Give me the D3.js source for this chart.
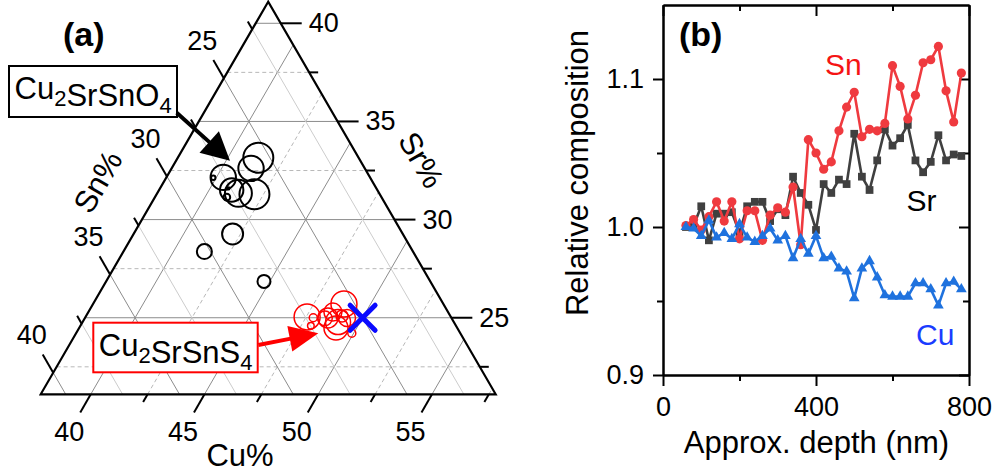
<!DOCTYPE html>
<html>
<head>
<meta charset="utf-8">
<title>Ternary composition and depth profile</title>
<script src="https://cdn.jsdelivr.net/npm/d3@7"></script>
<style>
  body { margin: 0; background: #fff; }
  svg text { font-family: "Liberation Sans", Arial, Helvetica, sans-serif; fill: #000; }
</style>
</head>
<body>
<svg id="chart" width="995" height="473"></svg>
<script>
"use strict";

// ---------- panel (a) data : compositions in at.% ----------
var oxideCu = [41.34, 41.29, 40.30, 40.99, 41.37, 42.10, 39.87, 40.96, 40.80, 42.15, 41.36, 44.74];
var oxideSr = [33.15, 32.61, 32.15, 31.51, 31.34, 31.29, 32.13, 31.14, 31.59, 29.27, 28.37, 26.85];
var oxideSn = [25.51, 26.10, 27.55, 27.50, 27.29, 26.61, 28.00, 27.90, 27.61, 28.58, 30.27, 28.41];
var oxideWeight = [15, 12.7, 12.7, 11.7, 13.5, 15, 2.2, 3.4, 1.2, 10.5, 7.5, 6.5];

var sulfideCu = [48.83, 47.54, 49.03, 49.32, 48.48, 48.36, 47.83, 47.93, 49.92, 49.09, 48.55, 49.05];
var sulfideSr = [25.70, 25.04, 24.78, 24.99, 24.99, 24.97, 25.00, 24.59, 24.21, 24.48, 25.29, 25.09];
var sulfideSn = [25.47, 27.42, 26.19, 25.69, 26.53, 26.67, 27.17, 27.48, 25.87, 26.43, 26.16, 25.86];
var sulfideWeight = [13, 13, 12.5, 8.5, 10, 7.3, 4, 3.3, 4, 12, 9, 6];

var targetCu = [50], targetSr = [25], targetSn = [25];

// visible corner of the ternary (lower bound of each element, span 20 %)
var cuMin = 37.8, snMin = 21.1, srMin = 21.1, ternSpan = 20;
var cuGrid = [40, 42.5, 45, 47.5, 50, 52.5, 55, 57.5];
var snGrid = [22.5, 25, 27.5, 30, 32.5, 35, 37.5, 40];
var srGrid = [22.5, 25, 27.5, 30, 32.5, 35, 37.5, 40];

// ---------- panel (b) data ----------
var depth = [60, 80, 100, 120, 140, 160, 180, 200, 220, 240, 260, 280, 300, 320, 340, 360, 380, 400, 420,
             440, 460, 480, 500, 520, 540, 560, 580, 600, 620, 640, 660, 680, 700, 720, 740, 760, 780];
var snRel = [1.001, 1.005, 0.998, 1.007, 1.017, 1.004, 1.017, 0.992, 1.011, 1.011, 0.991, 1.008, 1.013,
             1.010, 1.027, 0.988, 1.059, 1.050, 1.039, 1.044, 1.065, 1.081, 1.091, 1.061, 1.066, 1.065,
             1.070, 1.109, 1.095, 1.073, 1.089, 1.111, 1.113, 1.122, 1.092, 1.071, 1.104];
var srRel = [1.000, 1.001, 1.014, 0.991, 1.009, 1.009, 1.010, 0.996, 1.014, 1.017, 1.017, 1.004, 1.012,
             1.008, 1.034, 1.023, 1.015, 0.998, 1.029, 1.023, 1.032, 1.029, 1.063, 1.034, 1.025, 1.045,
             1.066, 1.055, 1.060, 1.069, 1.045, 1.037, 1.044, 1.062, 1.045, 1.049, 1.048];
var cuRel = [1.000, 0.999, 0.994, 1.0045, 0.993, 0.996, 0.992, 1.002, 0.993, 0.990, 0.994, 0.999, 0.991,
             0.994, 0.979, 0.992, 0.982, 0.994, 0.979, 0.980, 0.972, 0.970, 0.952, 0.972, 0.977, 0.966,
             0.954, 0.953, 0.953, 0.953, 0.962, 0.962, 0.958, 0.947, 0.962, 0.963, 0.958];
var depthTicks = [0, 400, 800], depthMinor = [200, 600];
var relTicks = [0.9, 1.0, 1.1], relMinor = [0.95, 1.05];

var svg = d3.select("#chart");

// =============== (a) ternary ===============
var ga = svg.append("g");

var cuFrac = d3.scaleLinear().domain([cuMin, cuMin + ternSpan]).range([0, 1]);
var snFrac = d3.scaleLinear().domain([snMin, snMin + ternSpan]).range([0, 1]);
var srFrac = d3.scaleLinear().domain([srMin, srMin + ternSpan]).range([0, 1]);
var fx = d3.scaleLinear().domain([0, 1]).range([40.7, 495.7]);
var fy = d3.scaleLinear().domain([0, 1]).range([394.3, 1.7]);
var rScale = d3.scaleLinear().domain([0, 15]).range([0, 15]);

// a = Sr fraction, c = Cu fraction (Sn is the rest)
function pt(a, c) { return [fx(c + a / 2), fy(a)]; }
function project(cu, sr) { return pt(srFrac(sr), cuFrac(cu)); }

function seg(g, p, q) {
  return g.append("line").attr("x1", p[0]).attr("y1", p[1]).attr("x2", q[0]).attr("y2", q[1]);
}

var grid = ga.append("g").attr("fill", "none");
srGrid.forEach(function (v) {
  var a = srFrac(v), major = v % 5 === 0;
  seg(grid, pt(a, 0), pt(a, 1 - a))
    .attr("stroke", major ? "#8c8c8c" : "#b8b8b8")
    .attr("stroke-dasharray", major ? null : "4,3");
});
cuGrid.forEach(function (v) {
  var c = cuFrac(v), major = v % 5 === 0;
  seg(grid, pt(0, c), pt(1 - c, c))
    .attr("stroke", major ? "#8c8c8c" : "#b8b8b8")
    .attr("stroke-dasharray", major ? null : "4,3");
});
snGrid.forEach(function (v) {
  var b = snFrac(v), major = v % 5 === 0;
  seg(grid, pt(0, 1 - b), pt(1 - b, 0))
    .attr("stroke", major ? "#8c8c8c" : "#cccccc");
});

// outline
var corners = [pt(1, 0), pt(0, 0), pt(0, 1)];
ga.append("path")
  .attr("d", d3.line()(corners) + "Z")
  .attr("fill", "none").attr("stroke", "#000").attr("stroke-width", 2.2)
  .attr("stroke-linejoin", "miter");

// ticks and labels along the three edges
var s3 = Math.sqrt(3) / 2;
function edgeTicks(values, edgePoint, dir) {
  values.forEach(function (v) {
    var p = edgePoint(v), major = v % 5 === 0, len = major ? 21 : 9;
    seg(ga, p, [p[0] + dir[0] * len, p[1] + dir[1] * len])
      .attr("stroke", "#000").attr("stroke-width", 2);
    if (major) {
      ga.append("text")
        .attr("x", p[0] + dir[0] * 43).attr("y", p[1] + dir[1] * 43)
        .attr("text-anchor", "middle").attr("dominant-baseline", "central")
        .attr("font-size", 27).text(v);
    }
  });
}
edgeTicks(srGrid, function (v) { var a = srFrac(v); return pt(a, 1 - a); }, [1, 0]);
edgeTicks(cuGrid, function (v) { return pt(0, cuFrac(v)); }, [-0.5, s3]);
edgeTicks(snGrid, function (v) { var b = snFrac(v); return pt(1 - b, 0); }, [-0.5, -s3]);

ga.append("text").attr("x", 240).attr("y", 466).attr("text-anchor", "middle")
  .attr("font-size", 31).text("Cu%");
ga.append("text").attr("transform", "translate(98,182) rotate(-60)")
  .attr("text-anchor", "middle").attr("dominant-baseline", "central")
  .attr("font-size", 31).text("Sn%");
ga.append("text").attr("transform", "translate(421,160) rotate(60)")
  .attr("text-anchor", "middle").attr("dominant-baseline", "central")
  .attr("font-size", 31).text("Sr%");

// measured compositions
ga.append("g").selectAll("circle")
  .data(oxideCu.map(function (d, i) { return { cu: d, sr: oxideSr[i], sn: oxideSn[i], w: oxideWeight[i] }; }))
  .enter().append("circle")
  .attr("cx", function (d) { return project(d.cu, d.sr)[0]; })
  .attr("cy", function (d) { return project(d.cu, d.sr)[1]; })
  .attr("r", function (d) { return rScale(d.w); })
  .attr("fill", "none").attr("stroke", "#000").attr("stroke-width", 2);

ga.append("g").selectAll("circle")
  .data(sulfideCu.map(function (d, i) { return { cu: d, sr: sulfideSr[i], sn: sulfideSn[i], w: sulfideWeight[i] }; }))
  .enter().append("circle")
  .attr("cx", function (d) { return project(d.cu, d.sr)[0]; })
  .attr("cy", function (d) { return project(d.cu, d.sr)[1]; })
  .attr("r", function (d) { return rScale(d.w); })
  .attr("fill", "none").attr("stroke", "#ff0000").attr("stroke-width", 1.5);

ga.append("g").selectAll("path")
  .data(targetCu.map(function (d, i) { return { cu: d, sr: targetSr[i], sn: targetSn[i] }; }))
  .enter().append("path")
  .attr("transform", function (d) { return "translate(" + project(d.cu, d.sr) + ")"; })
  .attr("d", d3.symbol().type(d3.symbolTimes).size(410))
  .attr("fill", "none").attr("stroke", "#0a0aff").attr("stroke-width", 5)
  .attr("stroke-linecap", "round");

// phase labels with arrows
function arrow(x1, y1, x2, y2, color, headLen, headW) {
  var ang = Math.atan2(y2 - y1, x2 - x1), ca = Math.cos(ang), sa = Math.sin(ang);
  var bx = x2 - headLen * ca, by = y2 - headLen * sa;
  ga.append("line").attr("x1", x1).attr("y1", y1).attr("x2", bx + ca).attr("y2", by + sa)
    .attr("stroke", color).attr("stroke-width", 4);
  ga.append("path")
    .attr("d", "M" + x2 + "," + y2 + "L" + (bx - sa * headW / 2) + "," + (by + ca * headW / 2) +
               "L" + (bx + sa * headW / 2) + "," + (by - ca * headW / 2) + "Z")
    .attr("fill", color);
}

function phaseLabel(x, y, w, h, color, parts) {
  ga.append("rect").attr("x", x).attr("y", y).attr("width", w).attr("height", h)
    .attr("fill", "#fff").attr("stroke", color).attr("stroke-width", 2);
  var t = ga.append("text").attr("x", x + 5.5).attr("y", y + 33).attr("font-size", 31);
  parts.forEach(function (p) {
    if (p.sub) {
      t.append("tspan").attr("font-size", 22).attr("dy", 7).text(p.t);
      t.append("tspan").attr("dy", -7).text("");
    } else {
      t.append("tspan").text(p.t);
    }
  });
}

phaseLabel(9, 66, 168, 51, "#000", [{ t: "Cu" }, { t: "2", sub: 1 }, { t: "SrSnO" }, { t: "4", sub: 1 }]);
arrow(176.7, 112.7, 230, 160.7, "#000", 28, 29);
phaseLabel(93.3, 322.7, 164.4, 49.6, "#ff0000", [{ t: "Cu" }, { t: "2", sub: 1 }, { t: "SrSnS" }, { t: "4", sub: 1 }]);
arrow(258.3, 345, 318.3, 333.3, "#ff0000", 29, 26);

ga.append("text").attr("x", 63).attr("y", 46).attr("font-size", 34)
  .attr("font-weight", "bold").text("(a)");

// =============== (b) depth profile ===============
var gb = svg.append("g");
var x = d3.scaleLinear().domain([0, 800]).range([663, 969]);
var y = d3.scaleLinear().domain([0.9, 1.15]).range([375, 5]);

function styleAxis(g) {
  g.selectAll("path, line").attr("stroke", "#000").attr("stroke-width", 2);
  g.selectAll("text").attr("font-size", 27).attr("fill", "#000")
    .style("font-family", "'Liberation Sans', Arial, sans-serif");
}

// bottom (outward) and top (inward)
gb.append("g").attr("transform", "translate(0,375)")
  .call(d3.axisBottom(x).tickValues(depthMinor).tickSize(6).tickFormat("").tickSizeOuter(0)).call(styleAxis);
gb.append("g").attr("transform", "translate(0,375)")
  .call(d3.axisBottom(x).tickValues(depthTicks).tickSize(11).tickPadding(11).tickSizeOuter(0)).call(styleAxis);
gb.append("g").attr("transform", "translate(0,5)")
  .call(d3.axisBottom(x).tickValues(depthMinor).tickSize(6).tickFormat("").tickSizeOuter(0)).call(styleAxis);
gb.append("g").attr("transform", "translate(0,5)")
  .call(d3.axisBottom(x).tickValues(depthTicks).tickSize(11).tickFormat("").tickSizeOuter(0)).call(styleAxis);

// left (outward) and right (inward)
gb.append("g").attr("transform", "translate(663,0)")
  .call(d3.axisLeft(y).tickValues(relMinor).tickSize(6).tickFormat("").tickSizeOuter(0)).call(styleAxis);
gb.append("g").attr("transform", "translate(663,0)")
  .call(d3.axisLeft(y).tickValues(relTicks).tickSize(10).tickPadding(9).tickFormat(d3.format(".1f")).tickSizeOuter(0)).call(styleAxis);
gb.append("g").attr("transform", "translate(969,0)")
  .call(d3.axisLeft(y).tickValues(relMinor).tickSize(6).tickFormat("").tickSizeOuter(0)).call(styleAxis);
gb.append("g").attr("transform", "translate(969,0)")
  .call(d3.axisLeft(y).tickValues(relTicks).tickSize(10).tickFormat("").tickSizeOuter(0)).call(styleAxis);

gb.append("text").attr("x", 816.5).attr("y", 453).attr("text-anchor", "middle")
  .attr("font-size", 31).text("Approx. depth (nm)");
gb.append("text").attr("transform", "translate(588,173) rotate(-90)")
  .attr("text-anchor", "middle").attr("font-size", 31).text("Relative composition");

var series = [
  { values: srRel, color: "#404040", symbol: d3.symbolSquare, size: 60 },
  { values: snRel, color: "#ef3a3f", symbol: d3.symbolCircle, size: 66 },
  { values: cuRel, color: "#1f72de", symbol: d3.symbolTriangle, size: 50 }
];

var line = d3.line().x(function (d) { return x(d[0]); }).y(function (d) { return y(d[1]); });

series.forEach(function (s) {
  var pts = depth.map(function (d, i) { return [d, s.values[i]]; });
  var g = gb.append("g");
  g.append("path").attr("d", line(pts)).attr("fill", "none")
    .attr("stroke", s.color).attr("stroke-width", 2.6).attr("stroke-linejoin", "round");
  g.selectAll("path.m").data(pts).enter().append("path").attr("class", "m")
    .attr("transform", function (d) { return "translate(" + x(d[0]) + "," + y(d[1]) + ")"; })
    .attr("d", d3.symbol().type(s.symbol).size(s.size))
    .attr("fill", s.color);
});

gb.append("text").attr("x", 825).attr("y", 75).attr("font-size", 30)
  .style("fill", "#f51414").text("Sn");
gb.append("text").attr("x", 906.5).attr("y", 211).attr("font-size", 30).text("Sr");
gb.append("text").attr("x", 916).attr("y", 345).attr("font-size", 30)
  .style("fill", "#1a3cff").text("Cu");

gb.append("text").attr("x", 679).attr("y", 46).attr("font-size", 34)
  .attr("font-weight", "bold").text("(b)");
</script>
</body>
</html>
